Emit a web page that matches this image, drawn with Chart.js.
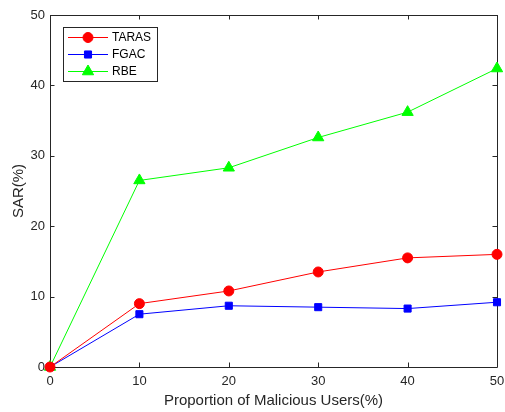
<!DOCTYPE html>
<html>
<head>
<meta charset="utf-8">
<script src="https://cdn.jsdelivr.net/npm/chart.js@4.4.0/dist/chart.umd.min.js"></script>
<style>
  body { margin: 0; background: #fff; }
  #wrap { width: 505px; height: 412px; }
</style>
</head>
<body>
<div id="wrap"><canvas id="sarChart" width="505" height="412"></canvas></div>
<script>
// values
const proportions = [0, 10, 20, 30, 40, 50];
const tarasSar = [0, 9.0, 10.8, 13.5, 15.5, 16.0];
const fgacSar = [0, 7.5, 8.7, 8.5, 8.3, 9.2];
const rbeSar = [0, 26.5, 28.3, 32.6, 36.2, 42.4];
const xTicks = [0, 10, 20, 30, 40, 50];
const yTicks = [0, 10, 20, 30, 40, 50];

const axisColor = '#262626';
const fontFamily = "'Liberation Sans', Arial, sans-serif";

function toPoints(values) {
    return proportions.map((p, i) => ({ x: p, y: values[i] }));
}

// MATLAB-like box with inward tick marks
const boxPlugin = {
    id: 'matlabBox',
    beforeDatasetsDraw(chart) {
        const { ctx, chartArea: a, scales } = chart;
        const len = 4.5;
        ctx.save();
        ctx.strokeStyle = axisColor;
        ctx.lineWidth = 1;
        ctx.beginPath();
        ctx.rect(Math.round(a.left) + 0.5, Math.round(a.top) + 0.5,
                 Math.round(a.right - a.left), Math.round(a.bottom - a.top));
        ctx.stroke();
        ctx.beginPath();
        xTicks.forEach(v => {
            const px = Math.round(scales.x.getPixelForValue(v)) + 0.5;
            ctx.moveTo(px, a.bottom); ctx.lineTo(px, a.bottom - len);
            ctx.moveTo(px, a.top); ctx.lineTo(px, a.top + len);
        });
        yTicks.forEach(v => {
            const py = Math.round(scales.y.getPixelForValue(v)) + 0.5;
            ctx.moveTo(a.left, py); ctx.lineTo(a.left + len, py);
            ctx.moveTo(a.right, py); ctx.lineTo(a.right - len, py);
        });
        ctx.stroke();
        ctx.restore();
    },
    afterDraw(chart) {
        // legend box in the upper-left corner
        const { ctx, chartArea: a } = chart;
        const bx = a.left + 13, by = a.top + 12, bw = 94, bh = 54;
        ctx.save();
        ctx.fillStyle = '#fff';
        ctx.fillRect(bx, by, bw, bh);
        ctx.strokeStyle = axisColor;
        ctx.lineWidth = 1;
        ctx.strokeRect(bx + 0.5, by + 0.5, bw, bh);
        chart.data.datasets.forEach((ds, i) => {
            const y = by + 10.5 + i * 17;
            const x0 = bx + 5, x1 = bx + 45;
            ctx.strokeStyle = ds.borderColor;
            ctx.lineWidth = 1;
            ctx.beginPath();
            ctx.moveTo(x0, y); ctx.lineTo(x1, y);
            ctx.stroke();
            ctx.fillStyle = ds.backgroundColor;
            ctx.strokeStyle = ds.borderColor;
            Chart.helpers.drawPoint(ctx, {
                pointStyle: ds.pointStyle, radius: ds.pointRadius, borderWidth: 1
            }, (x0 + x1) / 2, y);
            ctx.fillStyle = '#000';
            ctx.font = '12px ' + fontFamily;
            ctx.textBaseline = 'middle';
            ctx.textAlign = 'left';
            ctx.fillText(ds.label, bx + 49, y);
        });
        ctx.restore();
    }
};

const ctx = document.getElementById('sarChart').getContext('2d');
new Chart(ctx, {
    type: 'line',
    data: {
        datasets: [
            {
                label: 'TARAS', data: toPoints(tarasSar),
                borderColor: '#ff0000', backgroundColor: '#ff0000',
                pointStyle: 'circle', pointRadius: 5
            },
            {
                label: 'FGAC', data: toPoints(fgacSar),
                borderColor: '#0000ff', backgroundColor: '#0000ff',
                pointStyle: 'rect', pointRadius: 5
            },
            {
                label: 'RBE', data: toPoints(rbeSar),
                borderColor: '#00ff00', backgroundColor: '#00ff00',
                pointStyle: 'triangle', pointRadius: 6.5
            }
        ]
    },
    options: {
        responsive: false,
        animation: false,
        clip: false,
        layout: { autoPadding: false, padding: { top: 15, right: 8, left: 0, bottom: 0 } },
        elements: {
            line: { borderWidth: 1, tension: 0 },
            point: { borderWidth: 1, hoverRadius: 5 }
        },
        scales: {
            x: {
                type: 'linear', min: 0, max: 50,
                afterBuildTicks: s => { s.ticks = xTicks.map(v => ({ value: v })); },
                afterFit: s => { s.height = 45; s.paddingLeft = 0; s.paddingRight = 0; },
                grid: { display: false, drawTicks: false },
                border: { display: false },
                ticks: { color: axisColor, padding: 7, font: { family: fontFamily, size: 13 } },
                title: {
                    display: true, text: 'Proportion of Malicious Users(%)',
                    color: axisColor, padding: { top: 0, bottom: 2 },
                    font: { family: fontFamily, size: 15 }
                }
            },
            y: {
                type: 'linear', min: 0, max: 50,
                afterBuildTicks: s => { s.ticks = yTicks.map(v => ({ value: v })); },
                afterFit: s => { s.width = 50; },
                grid: { display: false, drawTicks: false },
                border: { display: false },
                ticks: { color: axisColor, padding: 5, font: { family: fontFamily, size: 13 } },
                title: {
                    display: true, text: 'SAR(%)',
                    color: axisColor, padding: { top: 9.5, bottom: 0 },
                    font: { family: fontFamily, size: 15 }
                }
            }
        },
        plugins: {
            legend: { display: false },
            tooltip: { enabled: false }
        }
    },
    plugins: [boxPlugin]
});
</script>
</body>
</html>
